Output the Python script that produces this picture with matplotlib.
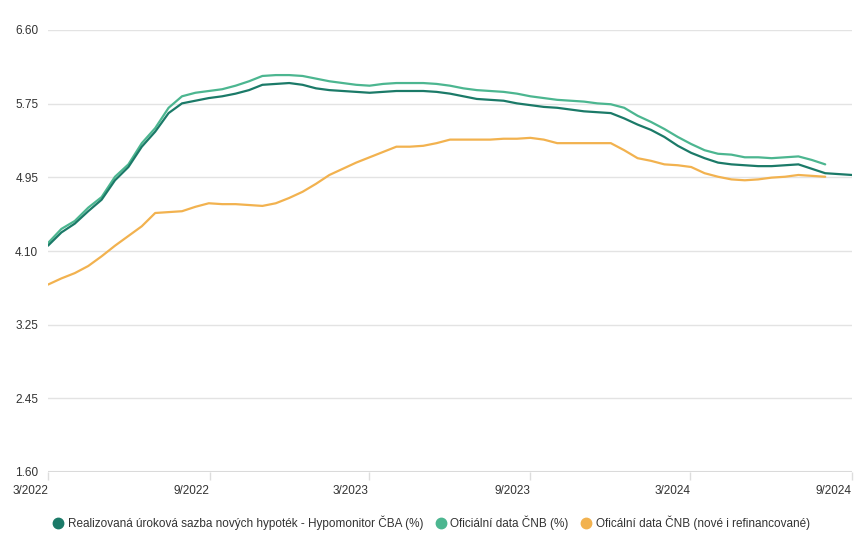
import numpy as np
import pandas as pd
import matplotlib
matplotlib.use("Agg")
import matplotlib.pyplot as plt
from matplotlib.lines import Line2D

plt.rcParams['font.family'] = ['Liberation Sans', 'DejaVu Sans']

# semi-monthly observations, 3/2022 .. 9/2024
dates = pd.date_range("2022-03-01", "2024-09-01", periods=61)

hypomonitor = [4.16, 4.31, 4.41, 4.55, 4.68, 4.90, 5.05, 5.28, 5.45, 5.66,
               5.77, 5.80, 5.83, 5.85, 5.88, 5.92, 5.98, 5.99, 6.00, 5.98,
               5.94, 5.92, 5.91, 5.90, 5.89, 5.90, 5.91, 5.91, 5.91, 5.90,
               5.88, 5.85, 5.82, 5.81, 5.80, 5.77, 5.75, 5.73, 5.72, 5.70,
               5.68, 5.67, 5.66, 5.60, 5.53, 5.47, 5.39, 5.29, 5.21, 5.15,
               5.10, 5.08, 5.07, 5.06, 5.06, 5.07, 5.08, 5.03, 4.98, 4.97,
               4.96]

cnb = [4.19, 4.35, 4.44, 4.59, 4.71, 4.94, 5.08, 5.32, 5.49, 5.72,
       5.85, 5.89, 5.91, 5.93, 5.97, 6.02, 6.08, 6.09, 6.09, 6.08,
       6.05, 6.02, 6.00, 5.98, 5.97, 5.99, 6.00, 6.00, 6.00, 5.99,
       5.97, 5.94, 5.92, 5.91, 5.90, 5.88, 5.85, 5.83, 5.81, 5.80,
       5.79, 5.77, 5.76, 5.72, 5.63, 5.56, 5.48, 5.39, 5.31, 5.24,
       5.20, 5.19, 5.16, 5.16, 5.15, 5.16, 5.17, 5.13, 5.08, np.nan,
       np.nan]

cnb_all = [3.72, 3.79, 3.85, 3.93, 4.04, 4.16, 4.27, 4.38, 4.53, 4.54,
           4.55, 4.60, 4.64, 4.63, 4.63, 4.62, 4.61, 4.64, 4.70, 4.77,
           4.86, 4.96, 5.03, 5.10, 5.16, 5.22, 5.28, 5.28, 5.29, 5.32,
           5.36, 5.36, 5.36, 5.36, 5.37, 5.37, 5.38, 5.36, 5.32, 5.32,
           5.32, 5.32, 5.32, 5.24, 5.15, 5.12, 5.08, 5.07, 5.05, 4.98,
           4.94, 4.91, 4.90, 4.91, 4.93, 4.94, 4.96, 4.95, 4.94, np.nan,
           np.nan]

series_names = ["Realizovaná úroková sazba nových hypoték - Hypomonitor ČBA (%)",
                "Oficiální data ČNB (%)",
                "Oficální data ČNB (nové i refinancované)"]
colors = ["#1b7a68", "#4cb690", "#f2b24f"]

ytick_labels = ["1.60", "2.45", "3.25", "4.10", "4.95", "5.75", "6.60"]
xtick_dates = ["2022-03-01", "2022-09-01", "2023-03-01", "2023-09-01", "2024-03-01", "2024-09-01"]
xtick_labels = ["3/2022", "9/2022", "3/2023", "9/2023", "3/2024", "9/2024"]

fig = plt.figure(figsize=(8.62, 5.35), dpi=100)
ax = fig.add_axes([48/862, (535-472)/535, (852-48)/862, (472-30)/535])

for vals, c in zip([cnb_all, cnb, hypomonitor], [colors[2], colors[1], colors[0]]):
    ax.plot(dates, vals, color=c, lw=1.6, solid_capstyle='round', solid_joinstyle='round', zorder=3)

ax.set_ylim(1.6, 6.6)
ax.set_xlim(pd.Timestamp(xtick_dates[0]), pd.Timestamp(xtick_dates[-1]))
yt = np.linspace(1.6, 6.6, len(ytick_labels))
ax.set_yticks(yt)
ax.set_yticklabels(ytick_labels)
ax.set_xticks(pd.to_datetime(xtick_dates))
ax.set_xticklabels(xtick_labels, ha='right')

for s in ax.spines.values():
    s.set_visible(False)
ax.grid(axis='y', color='#e3e3e3', lw=1.0, zorder=0)
ax.axhline(1.6, color='#d9d9d9', lw=1.5, zorder=1)
ax.tick_params(axis='y', length=0, pad=7, labelsize=8.5, labelcolor='#333333')
ax.tick_params(axis='x', length=6, width=1, color='#dddddd', pad=3, labelsize=8.5, labelcolor='#333333')

handles = [Line2D([], [], marker='o', ls='none', markersize=7.5, color=c) for c in colors]
fig.legend(handles, series_names, loc='center', bbox_to_anchor=(431/862, 1 - 523/535),
           ncol=3, frameon=False, fontsize=8.5, handletextpad=0.3, columnspacing=1.0,
           handlelength=1.0, labelcolor='#333333', borderaxespad=0)

fig.savefig("out.png", dpi=100)
